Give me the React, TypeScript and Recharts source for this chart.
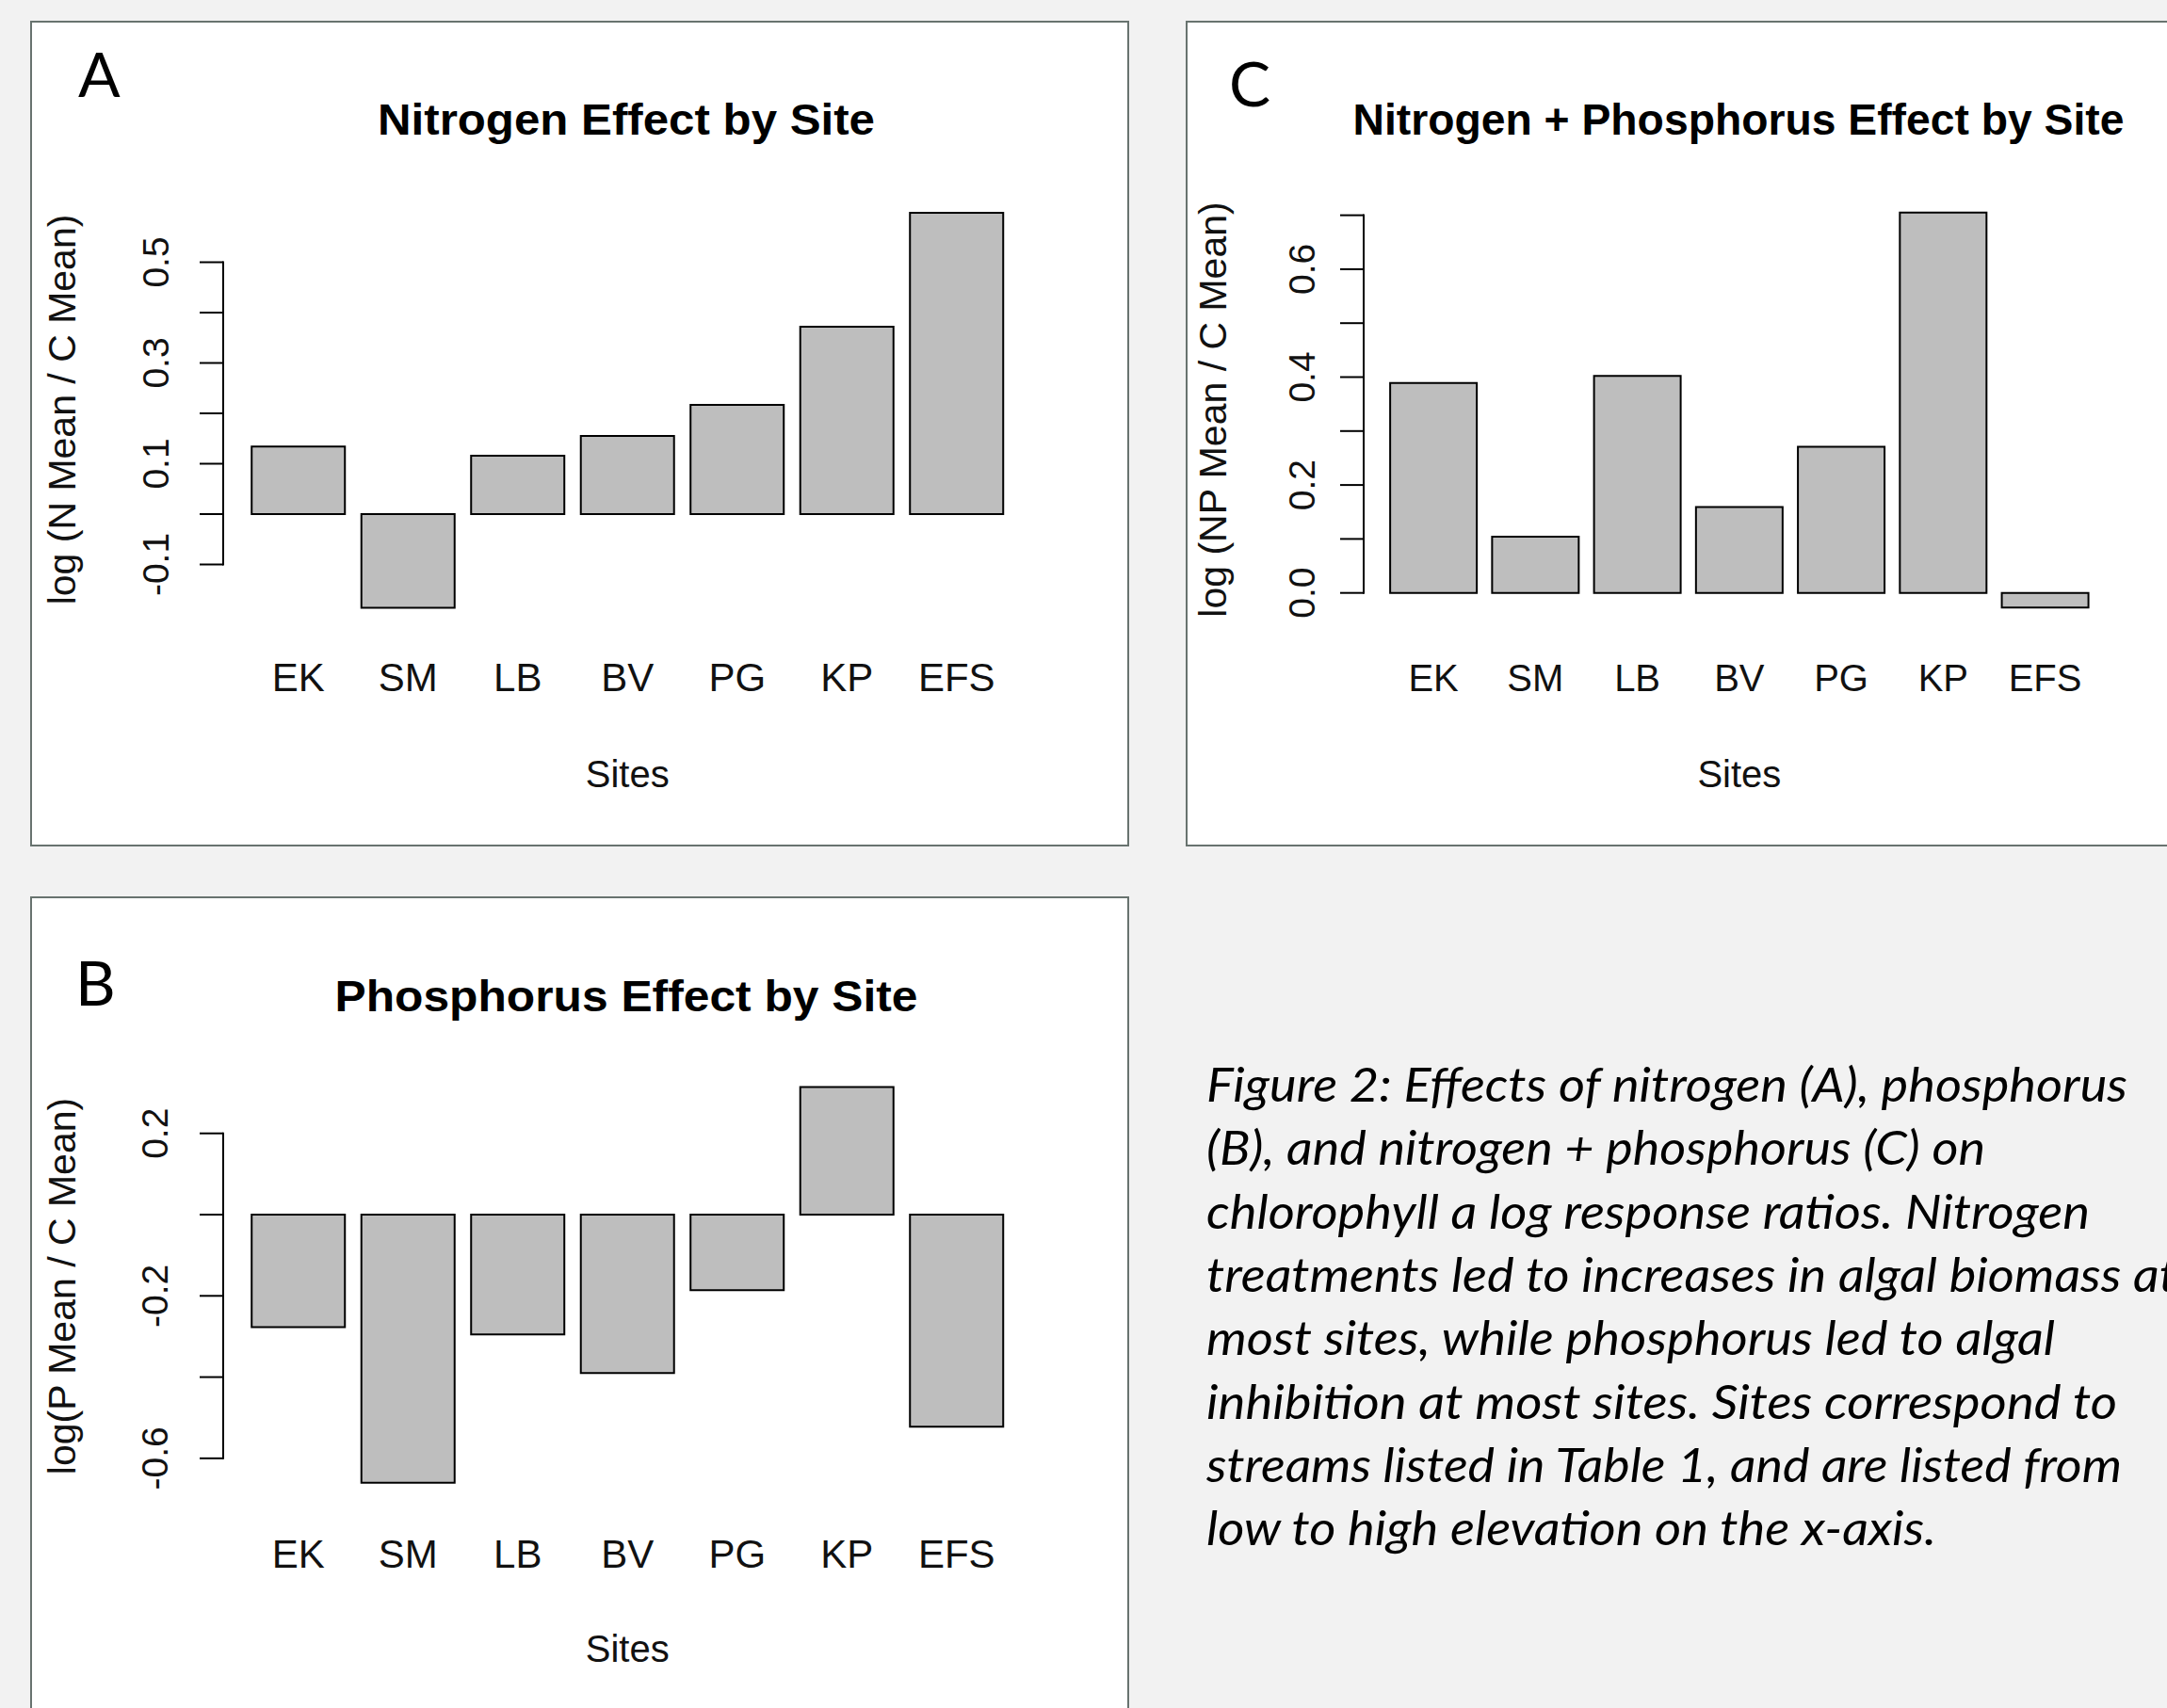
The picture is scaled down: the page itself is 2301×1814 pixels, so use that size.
import React from 'react';
import { BarChart, Bar, XAxis, YAxis } from 'recharts';

// ---------- data ----------
const sites = ['EK', 'SM', 'LB', 'BV', 'PG', 'KP', 'EFS'];
const nitrogenEffect = [0.134, -0.186, 0.116, 0.155, 0.217, 0.372, 0.598];
const phosphorusEffect = [-0.277, -0.66, -0.295, -0.39, -0.186, 0.314, -0.522];
const npEffect = [0.389, 0.104, 0.402, 0.159, 0.271, 0.705, -0.027];

const nTicks = [-0.1, 0, 0.1, 0.2, 0.3, 0.4, 0.5];
const nTickText = ['-0.1', '', '0.1', '', '0.3', '', '0.5'];
const pTicks = [-0.6, -0.4, -0.2, 0, 0.2];
const pTickText = ['-0.6', '', '-0.2', '', '0.2'];
const npTicks = [0, 0.1, 0.2, 0.3, 0.4, 0.5, 0.6, 0.7];
const npTickText = ['0.0', '', '0.2', '', '0.4', '', '0.6', ''];

const captionLines = [
  'Figure 2: Effects of nitrogen (A), phosphorus',
  '(B), and nitrogen + phosphorus (C) on',
  'chlorophyll a log response ratios. Nitrogen',
  'treatments led to increases in algal biomass at',
  'most sites, while phosphorus led to algal',
  'inhibition at most sites.  Sites correspond to',
  'streams listed in Table 1, and are listed from',
  'low to high elevation on the x-axis.',
];
const captionWidths = [978, 827, 938, 1031, 901, 967, 972, 775];

const toRows = (vals: number[]) => sites.map((s, i) => ({ site: s, value: vals[i] }));

// ---------- layout ----------
const RFONT = '"Liberation Sans", Arial, sans-serif';

type Cfg = {
  key: string;
  rows: { site: string; value: number }[];
  ticks: number[];
  tickText: string[];
  box: { x: number; y: number; w: number; h: number };
  axisX: number;
  bandStart: number;
  bandEnd: number;
  zeroY: number;
  ppu: number;
  domain: [number, number];
  tickLabelOffset: number;
  xLabelBaseline: number;
  xLabelSize: number;
  sitesBaseline: number;
  yLabel: string;
  yLabelX: number;
  yLabelY: number;
  title: string;
  titleX: number;
  titleBaseline: number;
  titleWidth: number;
  letter: string;
  letterX: number;
  letterBaseline: number;
};

const panels: Cfg[] = [
  {
    key: 'A',
    rows: toRows(nitrogenEffect),
    ticks: nTicks,
    tickText: nTickText,
    box: { x: 32, y: 22, w: 1167, h: 877 },
    axisX: 237,
    bandStart: 258.5,
    bandEnd: 1074,
    zeroY: 546,
    ppu: 535,
    domain: [-0.3, 0.7],
    tickLabelOffset: 72,
    xLabelBaseline: 734,
    xLabelSize: 42,
    sitesBaseline: 836,
    yLabel: 'log (N Mean / C Mean)',
    yLabelX: 69.5,
    yLabelY: 435,
    title: 'Nitrogen Effect by Site',
    titleX: 665,
    titleBaseline: 143,
    titleWidth: 528,
    letter: 'A',
    letterX: 83,
    letterBaseline: 103,
  },
  {
    key: 'C',
    rows: toRows(npEffect),
    ticks: npTicks,
    tickText: npTickText,
    box: { x: 1259, y: 22, w: 1167, h: 877 },
    axisX: 1448,
    bandStart: 1468,
    bandEnd: 2225.7,
    zeroY: 629.7,
    ppu: 573,
    domain: [-0.1, 0.8],
    tickLabelOffset: 66,
    xLabelBaseline: 734,
    xLabelSize: 40,
    sitesBaseline: 836,
    yLabel: 'log (NP Mean / C Mean)',
    yLabelX: 1291,
    yLabelY: 435,
    title: 'Nitrogen + Phosphorus Effect by Site',
    titleX: 1846,
    titleBaseline: 143,
    titleWidth: 819,
    letter: 'C',
    letterX: 1305,
    letterBaseline: 113,
  },
  {
    key: 'B',
    rows: toRows(phosphorusEffect),
    ticks: pTicks,
    tickText: pTickText,
    box: { x: 32, y: 952, w: 1167, h: 877 },
    axisX: 237,
    bandStart: 258.5,
    bandEnd: 1074,
    zeroY: 1290,
    ppu: 431.4,
    domain: [-0.8, 0.4],
    tickLabelOffset: 73,
    xLabelBaseline: 1665,
    xLabelSize: 42,
    sitesBaseline: 1765,
    yLabel: 'log(P Mean / C Mean)',
    yLabelX: 69.5,
    yLabelY: 1366,
    title: 'Phosphorus Effect by Site',
    titleX: 665,
    titleBaseline: 1074,
    titleWidth: 619,
    letter: 'B',
    letterX: 80,
    letterBaseline: 1068,
  },
];

function Panel({ cfg }: { cfg: Cfg }) {
  const { box } = cfg;
  const plotTop = cfg.zeroY - cfg.domain[1] * cfg.ppu - box.y;
  const plotBottom = cfg.zeroY - cfg.domain[0] * cfg.ppu - box.y;
  const yAxisW = cfg.axisX - box.x;
  const padLeft = cfg.bandStart - cfg.axisX;
  const marginRight = box.x + box.w - cfg.bandEnd;
  const xAxisH = box.h - plotBottom;
  const tickStep = cfg.ticks[1] - cfg.ticks[0];
  const stepPx = tickStep * cfg.ppu;
  const xLabelDy = cfg.xLabelBaseline - box.y - plotBottom;
  const sitesDy = cfg.sitesBaseline - box.y - plotBottom;

  const YTick = (props: any) => {
    const { x, y, payload } = props;
    const idx = cfg.ticks.findIndex((t) => Math.abs(t - payload.value) < 1e-9);
    const label = idx >= 0 ? cfg.tickText[idx] : '';
    const isTop = idx === cfg.ticks.length - 1;
    const lx = x - cfg.tickLabelOffset;
    return (
      <g>
        <line x1={x - 25} y1={y} x2={x} y2={y} stroke="#000" strokeWidth={2} />
        {!isTop && <line x1={x} y1={y + 1} x2={x} y2={y - stepPx - 1} stroke="#000" strokeWidth={2} />}
        {label && (
          <text
            x={lx}
            y={y}
            dy="0.36em"
            textAnchor="middle"
            transform={`rotate(-90 ${lx} ${y})`}
            fontSize={39}
            fontFamily={RFONT}
            fill="#111"
          >
            {label}
          </text>
        )}
      </g>
    );
  };

  const XTick = (props: any) => {
    const { x, y, payload } = props;
    return (
      <text x={x} y={y + xLabelDy} textAnchor="middle" fontSize={cfg.xLabelSize} fontFamily={RFONT} fill="#111">
        {payload.value}
      </text>
    );
  };

  const SitesLabel = (props: any) => {
    const vb = props.viewBox;
    const cx = vb.x + padLeft + (vb.width - padLeft) / 2;
    return (
      <text x={cx} y={vb.y + sitesDy} textAnchor="middle" fontSize={40} fontFamily={RFONT} fill="#111">
        Sites
      </text>
    );
  };

  const YLabel = () => {
    const lx = cfg.yLabelX - box.x;
    const ly = cfg.yLabelY - box.y;
    return (
      <text
        x={lx}
        y={ly}
        dy="0.26em"
        textAnchor="middle"
        transform={`rotate(-90 ${lx} ${ly})`}
        fontSize={41}
        fontFamily={RFONT}
        fill="#111"
      >
        {cfg.yLabel}
      </text>
    );
  };

  return (
    <>
      <div
        style={{
          position: 'absolute',
          left: box.x,
          top: box.y,
          width: box.w,
          height: box.h,
          boxSizing: 'border-box',
          border: '2px solid #68736f',
          background: '#ffffff',
        }}
      />
      <div style={{ position: 'absolute', left: box.x, top: box.y }}>
        <BarChart
          width={box.w}
          height={box.h}
          data={cfg.rows}
          margin={{ top: plotTop, right: marginRight, left: 0, bottom: 0 }}
          barCategoryGap="7.5%"
        >
          <XAxis
            dataKey="site"
            type="category"
            axisLine={false}
            tickLine={false}
            tickSize={0}
            tickMargin={0}
            interval={0}
            height={xAxisH}
            padding={{ left: padLeft, right: 0 }}
            tick={<XTick />}
            label={<SitesLabel />}
          />
          <YAxis
            type="number"
            domain={cfg.domain}
            ticks={cfg.ticks}
            interval={0}
            width={yAxisW}
            axisLine={false}
            tickLine={false}
            tickSize={0}
            tickMargin={0}
            tick={<YTick />}
            label={<YLabel />}
          />
          <Bar dataKey="value" fill="#bebebe" stroke="#000" strokeWidth={2} isAnimationActive={false} />
        </BarChart>
      </div>
    </>
  );
}

export default function App() {
  return (
    <div
      style={{
        position: 'absolute',
        left: 0,
        top: 0,
        width: 2301,
        height: 1814,
        overflow: 'hidden',
        background: '#f2f2f2',
      }}
    >
      {panels.map((p) => (
        <Panel key={p.key} cfg={p} />
      ))}
      <svg
        width={2301}
        height={1814}
        style={{ position: 'absolute', left: 0, top: 0, pointerEvents: 'none' }}
      >
        {panels.map((p) => (
          <g key={p.key}>
            <text
              x={p.titleX}
              y={p.titleBaseline}
              textAnchor="middle"
              fontSize={46}
              fontWeight="bold"
              fontFamily={RFONT}
              textLength={p.titleWidth}
              lengthAdjust="spacingAndGlyphs"
              fill="#000"
            >
              {p.title}
            </text>
            <text x={p.letterX} y={p.letterBaseline} fontSize={66} fontFamily="Lato, sans-serif" fill="#000">
              {p.letter}
            </text>
          </g>
        ))}
        {captionLines.map((line, i) => (
          <text
            key={i}
            x={1281}
            y={1170 + i * 67.3}
            fontSize={50}
            fontStyle="italic"
            fontFamily="Lato, sans-serif"
            textLength={captionWidths[i]}
            lengthAdjust="spacingAndGlyphs"
            fill="#000"
          >
            {line}
          </text>
        ))}
      </svg>
    </div>
  );
}
